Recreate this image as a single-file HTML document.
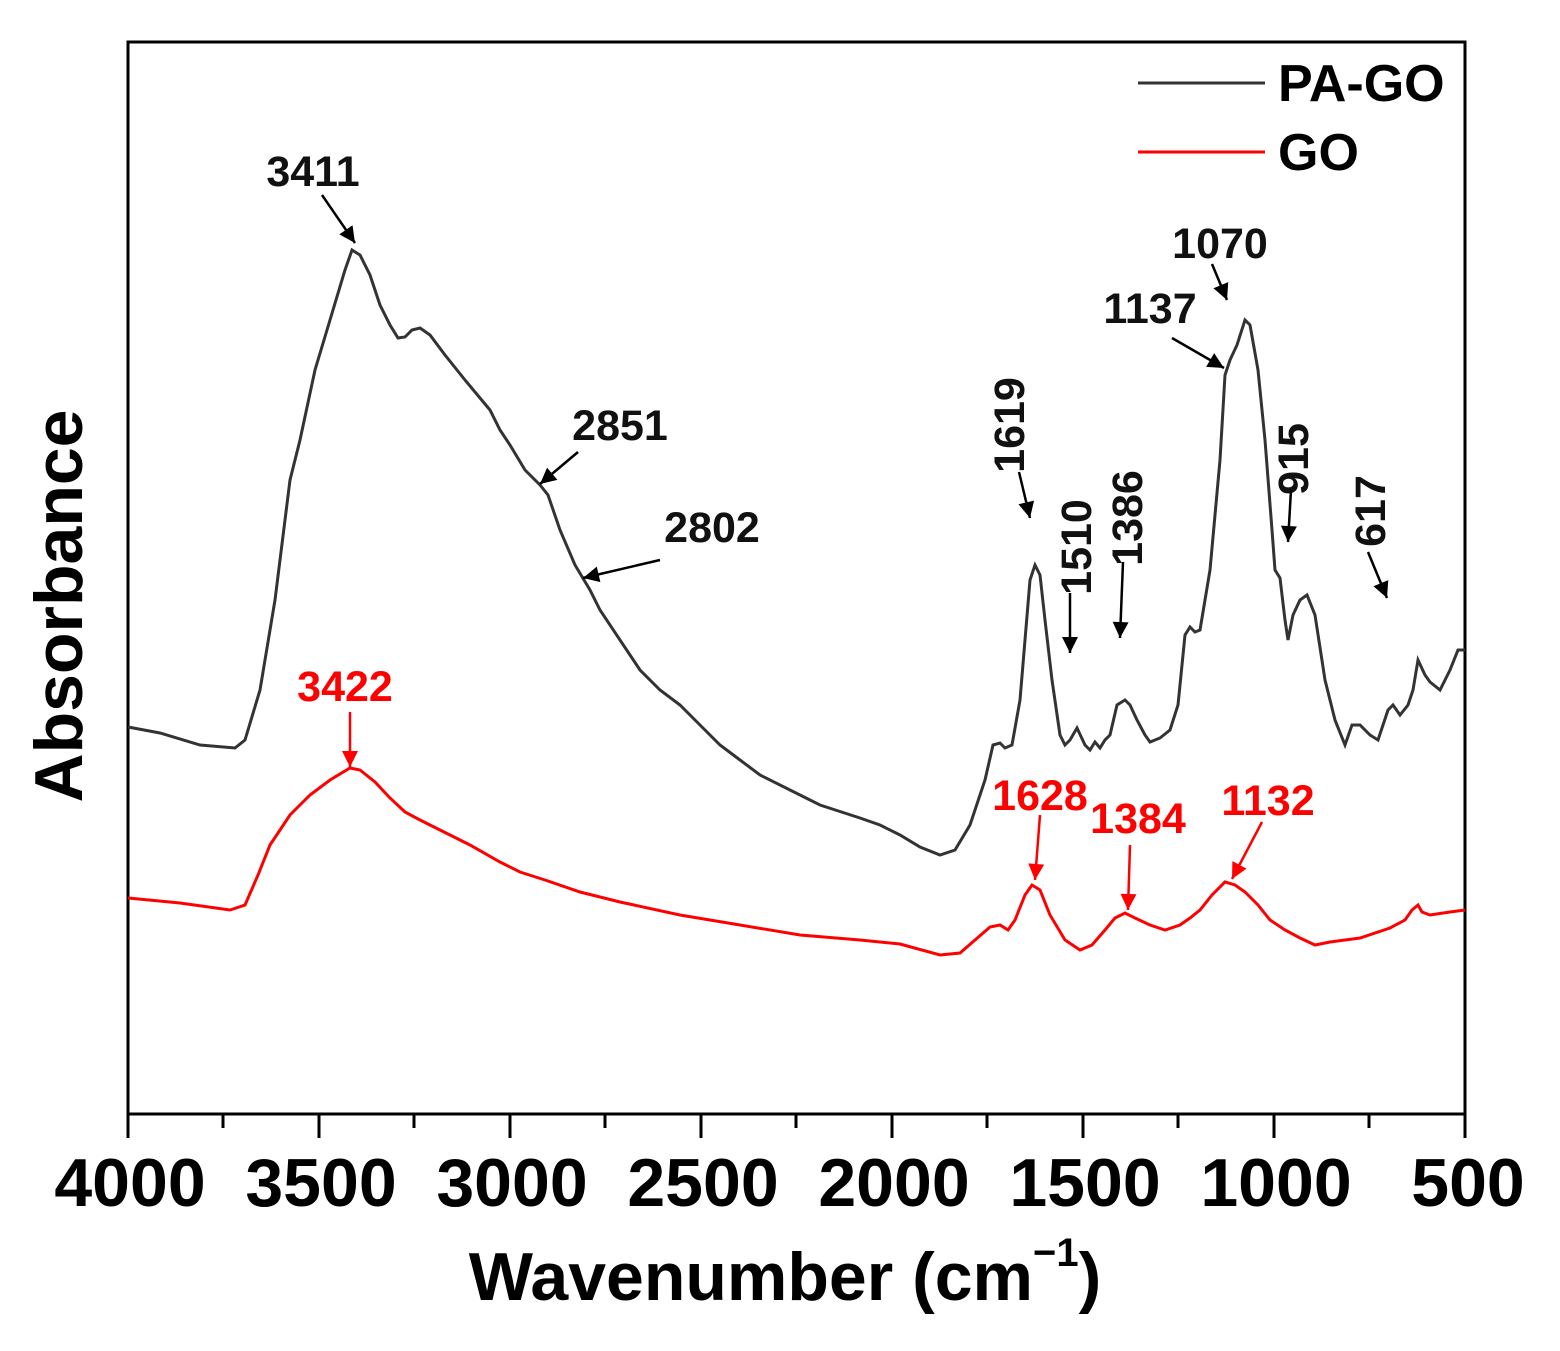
<!DOCTYPE html>
<html><head><style>body{margin:0;background:#fff}svg{display:block}</style></head><body>
<svg width="1560" height="1351" viewBox="0 0 1560 1351" xmlns="http://www.w3.org/2000/svg" font-family="Liberation Sans, Arial, sans-serif" font-weight="bold">
<defs>
<marker id="a" viewBox="0 0 10 10" refX="10" refY="5" markerWidth="22" markerHeight="16" orient="auto" markerUnits="userSpaceOnUse"><path d="M0,0 L10,5 L0,10 z" fill="#000"/></marker>
<marker id="r" viewBox="0 0 10 10" refX="10" refY="5" markerWidth="22" markerHeight="16" orient="auto" markerUnits="userSpaceOnUse"><path d="M0,0 L10,5 L0,10 z" fill="#f00"/></marker>
</defs>
<rect x="128" y="42" width="1337" height="1072" fill="none" stroke="#000" stroke-width="3"/>
<g stroke="#000" stroke-width="3">
<line x1="128" y1="1114" x2="128" y2="1138"/><line x1="319" y1="1114" x2="319" y2="1138"/><line x1="510" y1="1114" x2="510" y2="1138"/><line x1="701" y1="1114" x2="701" y2="1138"/><line x1="892" y1="1114" x2="892" y2="1138"/><line x1="1083" y1="1114" x2="1083" y2="1138"/><line x1="1274" y1="1114" x2="1274" y2="1138"/><line x1="1465" y1="1114" x2="1465" y2="1138"/>
<line x1="223" y1="1114" x2="223" y2="1128"/><line x1="414" y1="1114" x2="414" y2="1128"/><line x1="605" y1="1114" x2="605" y2="1128"/><line x1="796" y1="1114" x2="796" y2="1128"/><line x1="987" y1="1114" x2="987" y2="1128"/><line x1="1178" y1="1114" x2="1178" y2="1128"/><line x1="1369" y1="1114" x2="1369" y2="1128"/>
</g>
<g font-size="68" text-anchor="middle">
<text x="130" y="1206">4000</text><text x="321" y="1206">3500</text><text x="512" y="1206">3000</text><text x="703" y="1206">2500</text><text x="894" y="1206">2000</text><text x="1085" y="1206">1500</text><text x="1276" y="1206">1000</text><text x="1468" y="1206">500</text>
</g>
<text x="785" y="1300" font-size="68" text-anchor="middle">Wavenumber (cm<tspan font-size="40" dy="-34">−1</tspan><tspan dy="34">)</tspan></text>
<text transform="translate(82,606) rotate(-90)" font-size="68" text-anchor="middle">Absorbance</text>
<polyline fill="none" stroke="#333" stroke-width="3" points="128,727 160,733 200,745 235,748 245,740 260,690 275,600 290,480 300,440 315,370 330,320 345,270 352,250 360,255 370,275 380,305 390,325 398,338 405,337 412,330 420,328 430,335 445,355 465,380 490,410 500,430 510,445 525,470 540,485 548,495 560,530 575,565 590,590 600,610 620,640 640,670 660,690 680,705 700,725 720,745 740,760 760,775 790,790 820,805 860,818 880,825 900,835 920,847 940,855 955,850 970,825 985,780 993,745 1000,743 1005,748 1012,745 1020,700 1025,640 1030,580 1035,565 1040,575 1045,620 1052,680 1060,735 1065,745 1070,740 1077,728 1085,745 1090,750 1095,742 1100,748 1105,740 1110,735 1117,705 1125,700 1130,705 1137,720 1145,735 1150,742 1160,738 1170,730 1178,705 1185,635 1190,627 1195,632 1200,630 1210,570 1220,460 1225,375 1230,360 1237,345 1245,320 1250,325 1258,370 1265,440 1272,530 1275,570 1280,578 1285,620 1288,640 1293,615 1300,600 1307,595 1315,615 1325,680 1335,720 1345,745 1352,725 1360,725 1370,735 1378,740 1388,710 1393,705 1400,715 1408,705 1413,690 1418,660 1425,675 1430,682 1440,690 1450,670 1458,650 1465,650"/>
<polyline fill="none" stroke="#f00" stroke-width="3" points="128,898 180,903 230,910 245,905 258,875 270,845 290,815 310,795 330,780 350,768 360,770 375,782 390,798 405,812 420,820 440,830 470,845 500,862 520,872 545,880 580,892 620,902 680,915 740,925 800,935 860,940 900,944 940,955 960,953 975,940 990,927 1000,925 1008,930 1015,920 1025,895 1032,885 1040,890 1050,915 1065,940 1080,950 1092,945 1105,930 1115,918 1125,913 1135,918 1150,925 1165,930 1180,925 1190,918 1200,910 1212,895 1225,882 1235,885 1245,892 1258,905 1270,920 1285,930 1300,938 1315,945 1330,942 1360,938 1390,928 1405,920 1412,910 1418,905 1422,912 1430,915 1450,912 1465,910"/>
<line x1="1138" y1="83" x2="1265" y2="83" stroke="#333" stroke-width="3"/>
<line x1="1138" y1="152" x2="1265" y2="152" stroke="#f00" stroke-width="3"/>
<text x="1278" y="101" font-size="52">PA-GO</text>
<text x="1278" y="170" font-size="52">GO</text>
<g font-size="43" fill="#111" text-anchor="middle">
<text x="313" y="186">3411</text><text x="620" y="440">2851</text><text x="712" y="542">2802</text><text x="1150" y="323">1137</text><text x="1220" y="258">1070</text>
<text transform="translate(1024,425) rotate(-90)">1619</text>
<text transform="translate(1091,547) rotate(-90)">1510</text>
<text transform="translate(1142,518) rotate(-90)">1386</text>
<text transform="translate(1308,459) rotate(-90)">915</text>
<text transform="translate(1385,511) rotate(-90)">617</text>
</g>
<g font-size="43" fill="#f00" text-anchor="middle">
<text x="345" y="701">3422</text><text x="1040" y="810">1628</text><text x="1138" y="833">1384</text><text x="1268" y="815">1132</text>
</g>
<g stroke="#000" stroke-width="2.5" marker-end="url(#a)">
<line x1="322" y1="195" x2="355" y2="243"/><line x1="578" y1="452" x2="540" y2="484"/><line x1="660" y1="560" x2="583" y2="578"/><line x1="1172" y1="338" x2="1224" y2="368"/><line x1="1212" y1="264" x2="1227" y2="300"/><line x1="1019" y1="472" x2="1030" y2="518"/><line x1="1070" y1="593" x2="1070" y2="653"/><line x1="1123" y1="562" x2="1120" y2="638"/><line x1="1291" y1="490" x2="1288" y2="542"/><line x1="1368" y1="552" x2="1387" y2="598"/>
</g>
<g stroke="#f00" stroke-width="2.5" marker-end="url(#r)">
<line x1="350" y1="712" x2="350" y2="767"/><line x1="1040" y1="815" x2="1035" y2="880"/><line x1="1130" y1="845" x2="1128" y2="910"/><line x1="1262" y1="822" x2="1232" y2="879"/>
</g>
</svg>
</body></html>
